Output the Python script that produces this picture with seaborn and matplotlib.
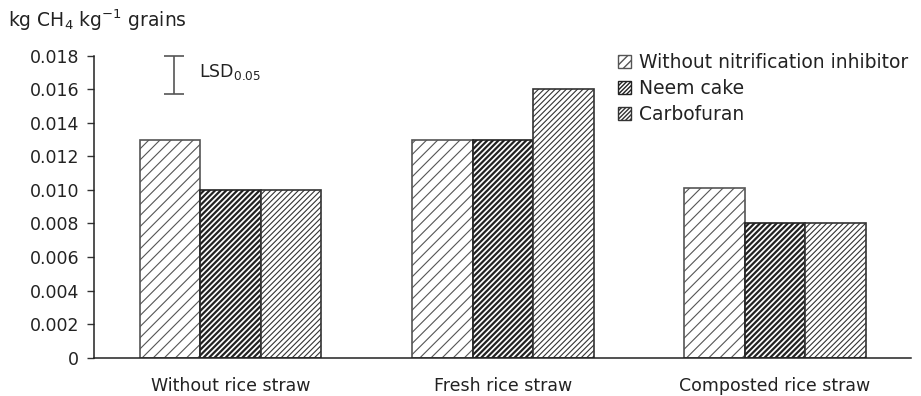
import matplotlib
matplotlib.use("Agg")
import matplotlib.pyplot as plt
import seaborn as sns
import pandas as pd
from matplotlib.patches import Patch

# Data
straw_types = ["Without rice straw", "Fresh rice straw", "Composted rice straw"]
inhibitors = ["Without nitrification inhibitor", "Neem cake", "Carbofuran"]
without_inhibitor = [0.0130, 0.0130, 0.0101]
neem_cake = [0.0100, 0.0130, 0.0080]
carbofuran = [0.0100, 0.0160, 0.0080]
y_ticks = [0, 0.002, 0.004, 0.006, 0.008, 0.010, 0.012, 0.014, 0.016, 0.018]
lsd_value = 0.0023
lsd_top = 0.018

series = [without_inhibitor, neem_cake, carbofuran]
df = pd.DataFrame(
    [(s, inh, v) for inh, vals in zip(inhibitors, series) for s, v in zip(straw_types, vals)],
    columns=["straw", "inhibitor", "value"],
)

sns.set_style("white")
plt.rcParams["font.family"] = ["DejaVu Sans"]
plt.rcParams["mathtext.fontset"] = "dejavusans"
plt.rcParams["hatch.color"] = "#222222"

fig = plt.figure(figsize=(9.21, 3.96), dpi=100)
ax = fig.add_axes([0.1026, 0.0967, 0.8866, 0.7626])

sns.barplot(
    data=df, x="straw", y="value", hue="inhibitor", order=straw_types,
    hue_order=inhibitors, palette=["white"] * 3, width=0.667, dodge=True,
    gap=0, edgecolor="#333333", linewidth=1.2, legend=False, ax=ax,
)

hatches = ["///", "//////", "//////"]
hatch_lw = [0.8, 1.6, 0.8]
edge_cols = ["#555555", "#222222", "#333333"]
for cont, h, hl, ec in zip(ax.containers, hatches, hatch_lw, edge_cols):
    for bar in cont:
        bar.set_hatch(h)
        bar.set_edgecolor(ec)
        try:
            bar.set_hatch_linewidth(hl)
        except AttributeError:
            pass

ax.set_xlim(-0.5, 2.5)
ax.set_ylim(0, 0.018)
ax.set_yticks(y_ticks)
ax.set_yticklabels(["0"] + [f"{t:.3f}" for t in y_ticks[1:]], fontsize=12.5, color="#222222")
ax.set_xticks(range(len(straw_types)))
ax.set_xticklabels(straw_types, fontsize=12.5, color="#222222")
ax.set_xticks([-0.5, 0.5, 1.5, 2.5], minor=True)
ax.tick_params(axis="x", which="major", length=0, pad=14)
ax.tick_params(axis="x", which="minor", length=6, width=1, color="#333333", direction="out")
ax.tick_params(axis="y", length=5, width=1, color="#333333", direction="out", left=True, pad=6)
ax.set_xlabel("")
ax.set_ylabel("")

for side in ["top", "right"]:
    ax.spines[side].set_visible(False)
for side in ["left", "bottom"]:
    ax.spines[side].set_color("#222222")
    ax.spines[side].set_linewidth(1.1)

# LSD bar
ax.errorbar([-0.208], [lsd_top - lsd_value / 2], yerr=[lsd_value / 2], fmt="none",
            ecolor="#555555", elinewidth=1.2, capsize=7, capthick=1.2, clip_on=False)
ax.text(-0.115, lsd_top - lsd_value / 2 + 0.0002, "LSD$_{0.05}$", fontsize=12.5,
        va="center", ha="left", color="#222222")

# Legend
handles = [
    Patch(facecolor="white", edgecolor=ec, hatch=h, linewidth=1.0)
    for h, ec in zip(["////", "////////", "////////"], edge_cols)
]
leg = ax.legend(handles, inhibitors, loc="upper left", bbox_to_anchor=(618 / 921, 1 - 53 / 396),
                bbox_transform=fig.transFigure, frameon=False, fontsize=13.5,
                handlelength=0.7, handleheight=0.7, handletextpad=0.4,
                labelspacing=0.38, borderaxespad=0, borderpad=0)
for t in leg.get_texts():
    t.set_color("#222222")

fig.text(8 / 921, 1 - 20 / 396, "kg CH$_4$ kg$^{-1}$ grains", fontsize=13.5,
         va="center", ha="left", color="#222222")

fig.savefig("out.png", dpi=100)
